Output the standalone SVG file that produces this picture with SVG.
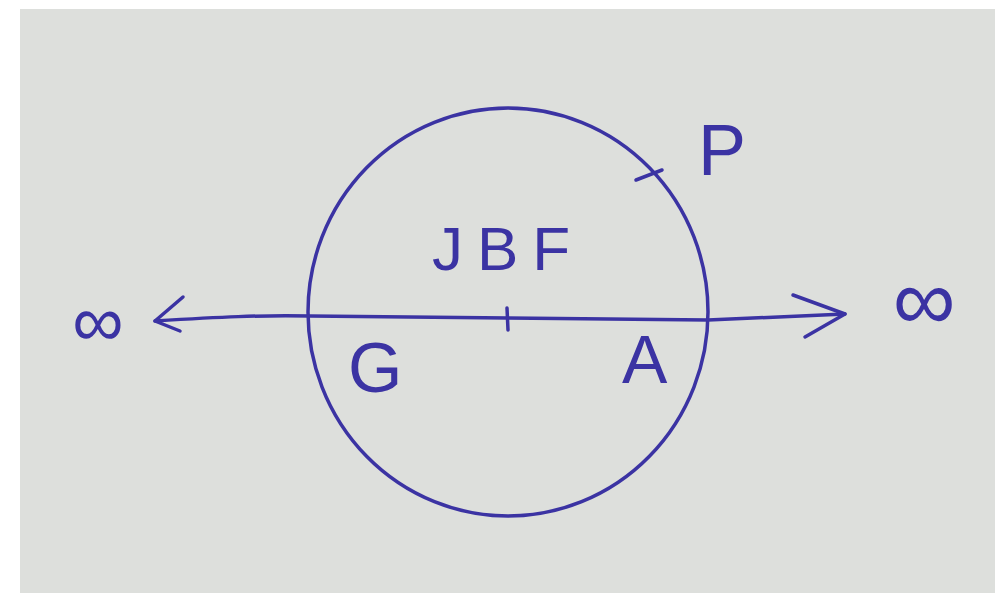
<svg xmlns="http://www.w3.org/2000/svg" width="1001" height="593" viewBox="0 0 1001 593">
<style>
.ink{fill:none;stroke:#3b33a3;stroke-width:3.5;stroke-linecap:round;stroke-linejoin:round}
.lbl{fill:#3b33a3;font-family:"Liberation Sans","DejaVu Sans",sans-serif}
</style>
<rect x="0" y="0" width="1001" height="593" fill="#ffffff"/>
<rect x="20" y="9" width="975" height="584" fill="#dddfdc"/>
<g id="circle">
<ellipse class="ink" cx="508" cy="312" rx="200" ry="204"/>
<line class="ink" x1="636" y1="180" x2="662" y2="170"/>
</g>
<g id="connectors">
<path class="ink" d="M155,321 C220,317 260,315 310,316 L508,318 L708,320 C760,318 800,316 845,314"/>
<path class="ink" d="M183,297 L155,321 L180,331"/>
<path class="ink" d="M793,295 L845,314 L805,337"/>
<line class="ink" x1="507" y1="308" x2="508" y2="330"/>
</g>
<g id="inf-left"><text class="lbl" x="98" y="346" font-size="72" text-anchor="middle" font-family="DejaVu Sans">∞</text></g>
<g id="inf-right"><text class="lbl" x="924" y="330" font-size="88" text-anchor="middle" font-family="DejaVu Sans">∞</text></g>
<g id="jbf"><text class="lbl" x="432" y="270" font-size="62" letter-spacing="14">JBF</text></g>
<g id="p"><text class="lbl" x="698" y="175" font-size="72">P</text></g>
<g id="g"><text class="lbl" x="348" y="392" font-size="70">G</text></g>
<g id="a"><text class="lbl" x="622" y="383" font-size="68">A</text></g>
</svg>
